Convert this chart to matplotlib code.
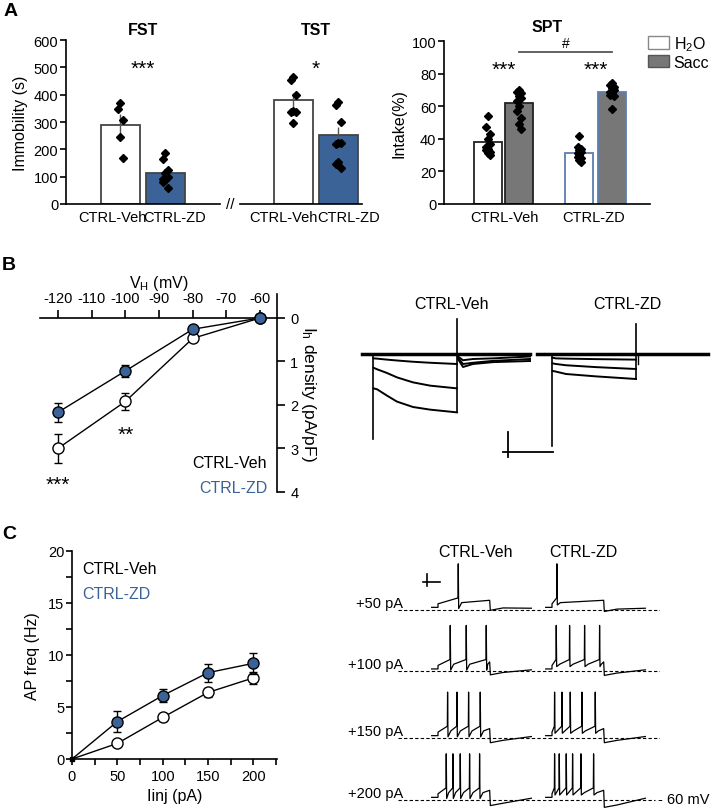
import numpy as np
import matplotlib
matplotlib.use("Agg")
import matplotlib.pyplot as plt
from matplotlib.patches import Patch
from matplotlib.ticker import MultipleLocator

plt.rcParams['font.family'] = ['Liberation Sans', 'DejaVu Sans']
plt.rcParams['mathtext.default'] = 'regular'
plt.rcParams['axes.unicode_minus'] = False
plt.rcParams['axes.linewidth'] = 1.2

W, H = 715, 812
BLUE = '#3b6397'
BLUE_EDGE = '#5b7fb0'
GREY = '#777777'

# ---------------- data ----------------
# A: FST / TST immobility (s)
groups = ['CTRL-Veh', 'CTRL-ZD']
fst_mean = [288, 115]
fst_sem = [40, 14]
fst_pts = [[368, 347, 307, 245, 168],
           [187, 163, 125, 115, 100, 92, 88, 80, 60]]
tst_mean = [380, 253]
tst_sem = [25, 30]
tst_pts = [[465, 455, 400, 340, 337, 335, 295],
           [375, 362, 300, 225, 222, 220, 155, 145, 130]]

# A: SPT intake (%)
h2o_mean = [38, 31]
h2o_sem = [3, 1.5]
sacc_mean = [62, 69]
sacc_sem = [3, 1.5]
h2o_pts = [[54, 47, 43, 40, 37, 35, 34, 33, 32, 31, 30],
           [42, 35, 34, 33, 32, 31, 30, 29, 28, 27, 26]]
sacc_pts = [[70, 69, 68, 66, 65, 63, 60, 57, 53, 49, 46],
            [74, 73, 72, 71, 70, 69, 68, 67, 66, 58]]

# B: Ih density vs holding potential
vh = [-120, -100, -80, -60]
ih_veh = [3.0, 1.92, 0.47, 0.0]
ih_veh_err = [0.33, 0.2, 0.03, 0.0]
ih_zd = [2.17, 1.22, 0.26, 0.0]
ih_zd_err = [0.21, 0.13, 0.03, 0.0]

# B: example Ih traces (ms, pA), step from 0 to 840 ms
veh_step_t = [5, 40, 140, 240, 400, 570, 840]
veh_step_i = [[-35, -37, -45, -52, -62, -70, -80],
              [-110, -122, -152, -187, -227, -253, -275],
              [-275, -282, -333, -381, -424, -445, -467]]
veh_tail_t = [850, 900, 1000, 1200, 1570]
veh_tail_i = [[-20, -50, -40, -35, -20],
              [-30, -80, -70, -55, -40],
              [-40, -104, -80, -65, -56]]
zd_step_t = [5, 40, 140, 440, 840]
zd_step_i = [[-30, -35, -37, -41, -45],
             [-75, -80, -90, -105, -120],
             [-135, -141, -160, -179, -200]]
zd_offset = 1790

# C: AP frequency vs injected current
iinj = [0, 50, 100, 150, 200]
ap_veh = [0, 1.5, 4.0, 6.4, 7.8]
ap_veh_err = [0, 0.2, 0.3, 0.4, 0.55]
ap_zd = [0, 3.6, 6.1, 8.3, 9.2]
ap_zd_err = [0, 1.0, 0.65, 0.88, 1.02]

# C: example firing, spike times (ms after step onset)
steps = ['+50 pA', '+100 pA', '+150 pA', '+200 pA']
spikes_veh = [[120], [72, 168, 288], [56, 112, 182, 252], [48, 88, 132, 188, 248]]
spikes_zd = [[28], [24, 104, 194, 284], [14, 58, 108, 178, 258], [14, 42, 84, 122, 172, 248]]
under_veh = [-61, -66, -68, -70]
under_zd = [-63, -67, -68, -73]
STEP = 310

fig = plt.figure(figsize=(W / 100, H / 100), dpi=100)


def px_axes(x0, y0, x1, y1):
    return fig.add_axes([x0 / W, 1 - y1 / H, (x1 - x0) / W, (y1 - y0) / H])


def ftext(x, y, s, **kw):
    fig.text(x / W, 1 - y / H, s, **kw)


def jitter(n):
    return 0.05 * np.array([(-1) ** i * (i % 3 != 0) for i in range(n)])


# ---------------- A: FST / TST ----------------
ax = px_axes(66, 41, 362, 205)
ax.set_xlim(-1.211, 5.367)
ax.set_ylim(0, 600)
pos = [0, 1, 3.84, 4.84]
means = fst_mean + tst_mean
sems = fst_sem + tst_sem
pts = fst_pts + tst_pts
cols = ['white', BLUE, 'white', BLUE]
for x, m, e, p, c in zip(pos, means, sems, pts, cols):
    ax.bar(x, m, width=0.87, color=c, edgecolor='#444444', linewidth=1.3, zorder=2)
    ax.errorbar(x, m, yerr=e, color='#555555', lw=1, capsize=0, zorder=3)
    ax.plot(x + jitter(len(p)), p, 'D', color='k', ms=3.8, zorder=4, clip_on=False)
for s in ['top', 'right', 'bottom']:
    ax.spines[s].set_visible(False)
ax.plot([-1.211, 2.211], [0, 0], color='k', lw=1.2, clip_on=False)
ax.plot([2.656, 5.367], [0, 0], color='k', lw=1.2, clip_on=False)
ax.text(2.43, 0, '//', ha='center', va='center', fontsize=11, clip_on=False)
ax.set_xticks([-0.19, 1.21, 3.62, 5.06])
ax.set_xticklabels(groups * 2, fontsize=10.5)
ax.tick_params(axis='x', length=0, pad=4)
ax.set_yticks(range(0, 601, 100))
ax.tick_params(axis='y', labelsize=10.5, direction='out', length=4, width=1.2, pad=1.5)
ax.set_ylabel('Immobility (s)', fontsize=11.5, labelpad=4)
ax.text(0.5, 640, 'FST', ha='center', va='center', weight='bold', fontsize=11.5, clip_on=False)
ax.text(4.34, 640, 'TST', ha='center', va='center', weight='bold', fontsize=11.5, clip_on=False)
ax.text(0.5, 476, '***', ha='center', va='baseline', fontsize=15)
ax.text(4.34, 476, '*', ha='center', va='baseline', fontsize=15)

# ---------------- A: SPT ----------------
ax = px_axes(444, 42, 650, 205)
ax.set_xlim(-1.419, 5.226)
ax.set_ylim(0, 100)
h2o_pos = [0, 2.95]
sacc_pos = [1, 4.0]
edges = ['#222222', BLUE_EDGE]
for i in range(2):
    ax.bar(h2o_pos[i], h2o_mean[i], width=0.9, color='white', edgecolor=edges[i], lw=1.3, zorder=2)
    ax.bar(sacc_pos[i], sacc_mean[i], width=0.9, color=GREY, edgecolor=edges[i], lw=1.3, zorder=2)
    ax.errorbar(h2o_pos[i], h2o_mean[i], yerr=h2o_sem[i], color='#555555', lw=1, zorder=3)
    ax.errorbar(sacc_pos[i], sacc_mean[i], yerr=sacc_sem[i], color='#333333', lw=1, zorder=3)
    ax.plot(h2o_pos[i] + jitter(len(h2o_pts[i])), h2o_pts[i], 'D', color='k', ms=3.8, zorder=4)
    ax.plot(sacc_pos[i] + jitter(len(sacc_pts[i])), sacc_pts[i], 'D', color='k', ms=3.8, zorder=4)
    ax.text((h2o_pos[i] + sacc_pos[i]) / 2, 79, '***', ha='center', va='baseline', fontsize=15)
ax.plot([1, 4], [93, 93], color='#555555', lw=1.3, clip_on=False)
ax.text(2.5, 94.5, '#', ha='center', va='bottom', fontsize=10)
for s in ['top', 'right']:
    ax.spines[s].set_visible(False)
ax.set_xticks([0.52, 3.42])
ax.set_xticklabels(groups, fontsize=10.5)
ax.tick_params(axis='x', length=0, pad=4)
ax.set_yticks(range(0, 101, 20))
ax.tick_params(axis='y', labelsize=10.5, direction='out', length=4, width=1.2, pad=1.5)
ax.set_ylabel('Intake(%)', fontsize=11.5, labelpad=4)
ax.text(1.9, 109, 'SPT', ha='center', va='center', weight='bold', fontsize=11.5, clip_on=False)
handles = [Patch(facecolor='white', edgecolor='#888888', lw=1),
           Patch(facecolor=GREY, edgecolor='#555555', lw=1)]
fig.legend(handles, ['H$_2$O', 'Sacc'], loc='upper left',
           bbox_to_anchor=(648 / W, 1 - 35 / H), frameon=False, fontsize=11.5,
           handlelength=1.3, handleheight=0.8, handletextpad=0.3,
           labelspacing=0.12, borderpad=0, borderaxespad=0)

# ---------------- B: I-V ----------------
ax = px_axes(40, 295, 277, 493)
ax.set_xlim(-125.3, -55)
ax.set_ylim(4, -0.55)
ax.spines['left'].set_visible(False)
ax.spines['bottom'].set_visible(False)
ax.spines['top'].set_position(('data', 0))
ax.xaxis.tick_top()
ax.yaxis.tick_right()
ax.set_xticks(range(-120, -59, 10))
ax.set_yticks(range(0, 5))
ax.tick_params(labelsize=10.5, direction='out', length=6, width=1.2)
ax.xaxis.set_label_position('top')
ax.set_xlabel('V$_{H}$ (mV)', fontsize=11.5, labelpad=3)
ax.yaxis.set_label_position('right')
ax.set_ylabel('I$_{h}$ density (pA/pF)', fontsize=12.5, rotation=270, labelpad=14)
ax.errorbar(vh, ih_veh, yerr=ih_veh_err, fmt='-o', color='k', mfc='white', mec='k',
            ms=8, lw=1, capsize=3, elinewidth=1, clip_on=False, zorder=3)
ax.errorbar(vh, ih_zd, yerr=ih_zd_err, fmt='-o', color='k', mfc=BLUE, mec='k',
            ms=8, lw=1, capsize=3, elinewidth=1, clip_on=False, zorder=4)
ax.text(-100, 2.8, '**', ha='center', va='baseline', fontsize=15)
ax.text(-120, 3.95, '***', ha='center', va='baseline', fontsize=15)
ftext(267, 463, 'CTRL-Veh', ha='right', va='center', fontsize=11.5)
ftext(267, 489, 'CTRL-ZD', ha='right', va='center', fontsize=11.5, color=BLUE)

# ---------------- B: traces ----------------
ax = px_axes(355, 300, 712, 465)
ax.set_xlim(-180, 3390)
ax.set_ylim(-880, 440)
ax.axis('off')
ax.plot([-110, 1570], [0, 0], color='k', lw=2.5)
ax.plot([0, 0], [0, -680], color='k', lw=1.2)
ax.plot([840, 840], [veh_step_i[2][-1], 280], color='k', lw=1.2)
for si, ti in zip(veh_step_i, veh_tail_i):
    ax.plot(veh_step_t, si, color='k', lw=1.4)
    ax.plot(veh_tail_t, ti, color='k', lw=1.4)
ax.plot([zd_offset - 150, zd_offset - 90], [0, 0], color='k', lw=2.5)
ax.plot([zd_offset - 60, zd_offset + 1560], [0, 0], color='k', lw=2.5)
ax.plot([zd_offset, zd_offset], [0, -736], color='k', lw=1.2)
ax.plot([zd_offset + 840, zd_offset + 840], [zd_step_i[2][-1], 240], color='k', lw=1.2)
ax.plot([zd_offset + 860, zd_offset + 860], [0, -80], color='k', lw=1)
for si in zd_step_i:
    ax.plot(np.array(zd_step_t) + zd_offset, si, color='k', lw=1.4)
ax.plot([1350, 1350], [-624, -824], color='k', lw=1.3)
ax.plot([1300, 1800], [-784, -784], color='k', lw=1.3)
ftext(452, 305, 'CTRL-Veh', ha='center', va='center', fontsize=11.5)
ftext(627, 305, 'CTRL-ZD', ha='center', va='center', fontsize=11.5)

# ---------------- C: F-I ----------------
ax = px_axes(72, 552, 277, 760)
ax.set_xlim(0, 226)
ax.set_ylim(0, 20)
for s in ['top', 'right']:
    ax.spines[s].set_visible(False)
ax.xaxis.set_major_locator(MultipleLocator(50))
ax.xaxis.set_minor_locator(MultipleLocator(25))
ax.yaxis.set_major_locator(MultipleLocator(5))
ax.yaxis.set_minor_locator(MultipleLocator(2.5))
ax.tick_params(which='both', labelsize=10.5, direction='out', length=4, width=1.2)
ax.tick_params(axis='y', pad=1.5)
ax.set_xlabel('Iinj (pA)', fontsize=11.5, labelpad=3)
ax.set_ylabel('AP freq (Hz)', fontsize=11.5, labelpad=6)
ax.plot(iinj, ap_veh, color='k', lw=1, zorder=2, clip_on=False)
ax.plot(iinj, ap_zd, color='k', lw=1, zorder=2, clip_on=False)
ax.errorbar(iinj[1:], ap_veh[1:], yerr=ap_veh_err[1:], fmt='o', color='k', mfc='white',
            mec='k', ms=8, capsize=3, elinewidth=1, zorder=3)
ax.errorbar(iinj[1:], ap_zd[1:], yerr=ap_zd_err[1:], fmt='o', color='k', mfc=BLUE,
            mec='k', ms=8, capsize=3, elinewidth=1, zorder=4)
ax.plot(0, 0, 's', color='k', ms=3.5, clip_on=False, zorder=5)
ftext(82, 570, 'CTRL-Veh', ha='left', va='center', fontsize=11.5)
ftext(82, 595, 'CTRL-ZD', ha='left', va='center', fontsize=11.5, color=BLUE)


# ---------------- C: traces ----------------
def ap_trace(t_on, spikes, v_ahp, v_under):
    t = [t_on - 38, t_on, t_on]
    v = [-56, -56, -50]
    for i, s in enumerate(spikes):
        ts = t_on + s
        t += [ts, ts + 1.5, ts + 4]
        v += [-40, 18, v_ahp]
        nxt = spikes[i + 1] if i + 1 < len(spikes) else STEP
        t += [ts + 4 + min(18, (nxt - s) * 0.3)]
        v += [-48]
    t += [t_on + STEP, t_on + STEP + 4, t_on + STEP + 80, t_on + STEP + 250]
    v += [-44, v_under, v_under + 4, -57.5]
    return t, v


row_base = [610.7, 672.3, 739, 800.7]
for r in range(4):
    b = row_base[r]
    ax = px_axes(398, b - 52, 660, b + 12)
    ax.set_xlim(-240, 1332)
    ax.set_ylim(-80.4, 28.4)
    ax.axis('off')
    xend = 1302 if r == 3 else 1332
    ax.plot([-240, xend], [-60, -60], color='k', lw=0.8, ls=(0, (3, 2)))
    t, v = ap_trace(0, spikes_veh[r], -58, under_veh[r])
    ax.plot(t, v, color='k', lw=0.9)
    t, v = ap_trace(684, spikes_zd[r], -52, under_zd[r])
    ax.plot(t, v, color='k', lw=0.9)
    ftext(403, b - 7, steps[r], ha='right', va='center', fontsize=10.5)
    if r == 0:
        ax.plot([-66, -66], [0.7, -19.3], color='k', lw=1.2, clip_on=False)
        ax.plot([-90, 12], [-12.9, -12.9], color='k', lw=1.2, clip_on=False)
ftext(658, 800, '- 60 mV', ha='left', va='center', fontsize=10.5)
ftext(475, 553, 'CTRL-Veh', ha='center', va='center', fontsize=11.5)
ftext(583, 553, 'CTRL-ZD', ha='center', va='center', fontsize=11.5)

# panel letters
ftext(4, 12, 'A', fontsize=14, weight='bold', va='center')
ftext(2, 265, 'B', fontsize=14, weight='bold', va='center')
ftext(2, 535, 'C', fontsize=14, weight='bold', va='center')

fig.savefig('out.png', dpi=100)
